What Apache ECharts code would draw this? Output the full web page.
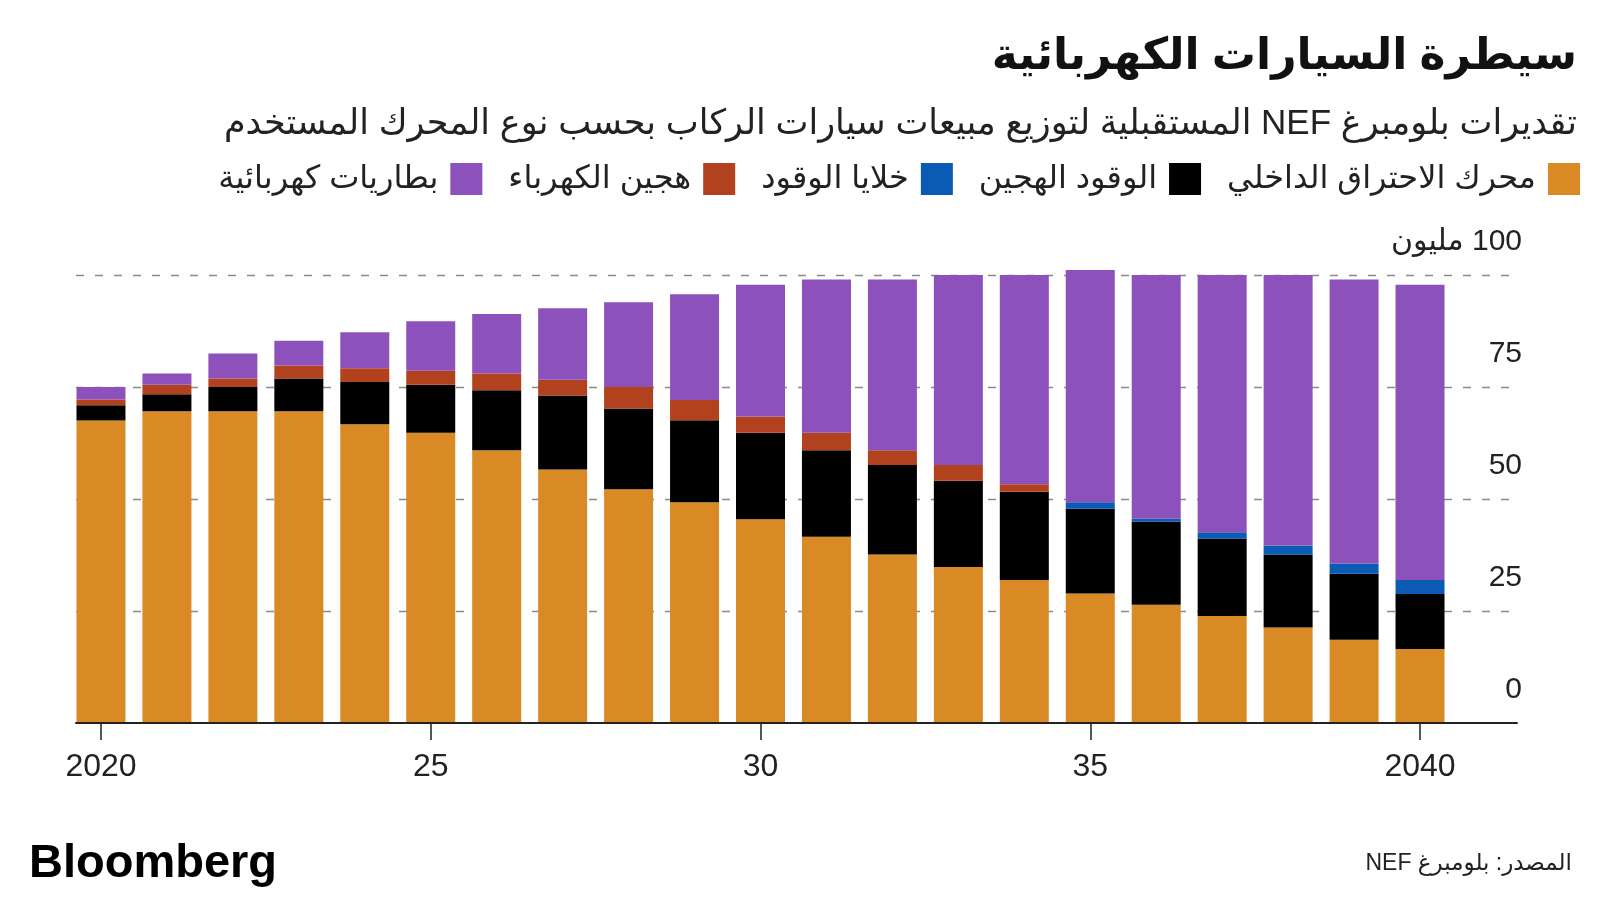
<!DOCTYPE html>
<html>
<head>
<meta charset="utf-8">
<script src="https://cdn.jsdelivr.net/npm/echarts@6/dist/echarts.min.js"></script>
<style>
html,body{margin:0;padding:0;background:#fff;}
#chart{width:1600px;height:900px;}
</style>
</head>
<body>
<div id="chart"></div>
<script>
// ---- data ----
const years = [2020,2021,2022,2023,2024,2025,2026,2027,2028,2029,2030,2031,2032,2033,2034,2035,2036,2037,2038,2039,2040];
const iceValues      = [67.5,69.6,69.6,69.6,66.7,64.8,60.9,56.6,52.2,49.3,45.5,41.6,37.6,34.8,31.9,28.9,26.4,23.9,21.3,18.6,16.5];
const hybridValues   = [3.4,3.8,5.4,7.3,9.4,10.7,13.4,16.5,18.0,18.3,19.3,19.3,20.0,19.3,19.7,18.9,18.5,17.3,16.3,14.7,12.3];
const fuelCellValues = [0,0,0,0,0,0,0,0,0,0,0,0,0,0,0,1.5,0.7,1.4,2.0,2.3,3.1];
const plugInValues   = [1.3,2.1,1.9,2.9,3.1,3.1,3.7,3.5,4.8,4.5,3.6,3.9,3.3,3.5,1.7,0,0,0,0,0,0];
const bevValues      = [2.8,2.5,5.6,5.5,8.0,11.1,13.3,16.0,18.9,23.6,29.4,34.2,38.1,42.4,46.7,51.8,54.4,57.4,60.4,63.4,65.9];
const seriesNames = ['محرك الاحتراق الداخلي','الوقود الهجين','خلايا الوقود','هجين الكهرباء','بطاريات كهربائية'];
const seriesColors = ['#DA8A25','#000000','#0B5AB4','#B2421E','#8D51BB'];
const xTickValues = [2020,2025,2030,2035,2040];
const xTickLabels = ['2020','25','30','35','2040'];
const yTickLabels = {0:'0',25:'25',50:'50',75:'75',100:'100 مليون'};
const titleText = 'سيطرة السيارات الكهربائية';
const subtitleText = 'تقديرات بلومبرغ NEF المستقبلية لتوزيع مبيعات سيارات الركاب بحسب نوع المحرك المستخدم';
const sourceText = 'المصدر: بلومبرغ NEF';
const brandText = 'Bloomberg';

// ---- chart ----
const RLE = '\u202B', PDF = '\u202C';
const FONT = '"Liberation Sans", "DejaVu Sans", sans-serif';
const valuesList = [iceValues, hybridValues, fuelCellValues, plugInValues, bevValues];

const chart = echarts.init(document.getElementById('chart'), null, {renderer:'canvas'});
const series = valuesList.map((vals, k) => ({
  name: seriesNames[k],
  type: 'bar',
  stack: 'total',
  xAxisIndex: 1,
  yAxisIndex: 1,
  barWidth: 49,
  clip: false,
  itemStyle: {color: seriesColors[k]},
  emphasis: {disabled: true},
  data: vals
}));

chart.setOption({
  animation: false,
  backgroundColor: '#ffffff',
  textStyle: {fontFamily: FONT},
  grid: [
    {left: 76, right: 83, top: 275, bottom: 177, containLabel: false},   // axes / gridlines
    {left: 68, right: 147, top: 275, bottom: 177, containLabel: false}   // bars
  ],
  legend: {
    data: seriesNames.slice().reverse(),
    right: 15, top: 158,
    align: 'right',
    icon: 'rect',
    itemWidth: 32, itemHeight: 32,
    itemGap: 26,
    selectedMode: false,
    textStyle: {fontFamily: FONT, fontSize: 32, color: '#222', padding: [0, 7, 0, 0]}
  },
  xAxis: [
    {
      type: 'value', gridIndex: 0,
      min: 2019.621, max: 2041.47,
      splitLine: {show: false},
      axisLine: {show: true, lineStyle: {color: '#222', width: 2}},
      axisTick: {show: true, customValues: xTickValues, length: 17, lineStyle: {color: '#222', width: 1.5}},
      axisLabel: {
        customValues: xTickValues,
        formatter: v => xTickLabels[xTickValues.indexOf(v)],
        fontSize: 32, color: '#222', margin: 28, fontFamily: FONT
      },
      z: 5
    },
    {
      type: 'category', gridIndex: 1,
      data: years,
      show: false
    }
  ],
  yAxis: [
    {
      type: 'value', gridIndex: 0,
      position: 'right',
      min: 0, max: 100, interval: 25,
      axisLine: {show: false},
      axisTick: {show: false},
      splitLine: {show: true, showMinLine: false, lineStyle: {color: '#8a8a8a', width: 1.3, type: [8, 11]}},
      axisLabel: {
        inside: true, margin: -5,
        verticalAlign: 'bottom', padding: [0, 0, 18, 0],
        fontSize: 30, color: '#222', fontFamily: FONT,
        formatter: v => RLE + yTickLabels[v] + PDF
      }
    },
    {
      type: 'value', gridIndex: 1,
      min: 0, max: 100, interval: 25,
      show: false
    }
  ],
  graphic: [
    {type: 'text', x: 1577, y: 57, style: {text: titleText, align: 'right', verticalAlign: 'middle', font: 'bold 44px ' + FONT, fill: '#111'}},
    {type: 'text', x: 1577, y: 124, style: {text: RLE + subtitleText + PDF, align: 'right', verticalAlign: 'middle', font: '35px ' + FONT, fill: '#222'}},
    {type: 'text', x: 1572, y: 864, style: {text: RLE + sourceText + PDF, align: 'right', verticalAlign: 'middle', font: '23px ' + FONT, fill: '#222'}},
    {type: 'text', x: 29, y: 864, style: {text: brandText, align: 'left', verticalAlign: 'middle', font: 'bold 47px ' + FONT, fill: '#000'}}
  ],
  series: series
});
</script>
</body>
</html>
